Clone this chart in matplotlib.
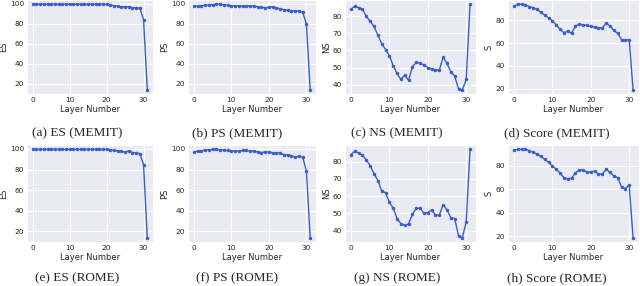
import matplotlib
matplotlib.use("Agg")
import matplotlib.pyplot as plt
import seaborn as sns

sns.set_style("darkgrid")
plt.rcParams['font.family'] = ['DejaVu Sans']

layers = list(range(32))

es_memit = [99.5]*21 + [99, 98, 97.5, 97, 97, 97, 96, 96, 95.5, 84, 14]
ps_memit = [97.5, 97.5, 98, 98.5, 98.5, 99, 99.5, 99.5, 99, 98.5, 98, 98, 98, 97.5, 98, 97.5,
            98, 97, 96.5, 96, 96.5, 97, 96, 95, 94, 93.5, 93, 92.5, 92.5, 91.5, 80, 14]
ns_memit = [84, 86, 85, 84, 80, 77, 74, 69, 64, 60.5, 57, 51, 46.5, 43, 45.5, 42.5,
            50.5, 53, 52.5, 51.5, 50, 49, 48.5, 48.5, 56, 52.5, 47.5, 45, 37.5, 37, 43, 87]
s_memit = [92.5, 94, 94, 93.5, 92, 91, 89.5, 87, 84.5, 82, 79.5, 76, 72, 69, 70.5, 68.5,
           75, 76.5, 76, 75.5, 74.5, 74, 73.5, 73, 77.5, 75, 71, 68.5, 63, 62.5, 63, 19]

es_rome = [99.5]*21 + [99, 98.5, 98, 97.5, 97, 98, 96.5, 96, 95.5, 84.5, 14]
ps_rome = [97, 98, 98, 99, 99, 99.5, 99.5, 99, 99, 98.5, 98, 98, 98, 98.5, 98.5, 98,
           98, 97, 96.5, 97, 97, 96, 96, 96, 94.5, 94, 93.5, 92, 93, 92, 78.5, 14]
ns_rome = [84, 86, 85, 83.5, 81, 77.5, 73, 69, 63, 62, 56.5, 53, 47, 44, 43, 44,
           49.5, 53, 53, 50, 50.5, 52, 49, 49, 55, 52, 47.5, 47, 37, 36, 45, 87]
s_rome = [93.5, 94, 94, 94, 93, 91.5, 90, 88, 85.5, 83, 80, 77, 74, 70, 69, 69.5,
          74, 76.5, 76.5, 74.5, 75, 75.5, 73, 73, 77, 74.5, 71.5, 70, 62, 60.5, 64, 19]

series = [es_memit, ps_memit, ns_memit, s_memit, es_rome, ps_rome, ns_rome, s_rome]
ylabels = ["ES", "PS", "NS", "S"] * 2
captions = ["(a) ES (MEMIT)", "(b) PS (MEMIT)", "(c) NS (MEMIT)", "(d) Score (MEMIT)",
            "(e) ES (ROME)", "(f) PS (ROME)", "(g) NS (ROME)", "(h) Score (ROME)"]

W, H = 640, 286
fig = plt.figure(figsize=(6.4, 2.86), dpi=100)

lefts = [27, 188, 345, 508]
rights = [153, 316, 476, 639]
row_tb = [(0, 94), (145, 242)]
cap_y = [133, 278]
color = "#3a5fcd"

for i, ys in enumerate(series):
    r, c = divmod(i, 4)
    top, bot = row_tb[r]
    ax = fig.add_axes([lefts[c] / W, 1 - bot / H, (rights[c] - lefts[c]) / W, (bot - top) / H])
    ax.plot(layers, ys, color=color, marker='.', markersize=3, linewidth=1)
    ax.set_xticks([0, 10, 20, 30])
    ax.tick_params(labelsize=5.3, pad=2, length=0, colors='#262626')
    ax.set_xlabel("Layer Number", fontsize=6, labelpad=1.5, color='#262626')
    ax.set_ylabel(ylabels[i], fontsize=6, labelpad=1.5, color='#262626')
    ax.grid(True, color='white', linewidth=0.8)
    fig.text((c * 160 + 77) / W, 1 - cap_y[r] / H, captions[i], ha='center', va='center',
             fontsize=9.5, family='Liberation Serif')

fig.savefig("out.png", dpi=100)
